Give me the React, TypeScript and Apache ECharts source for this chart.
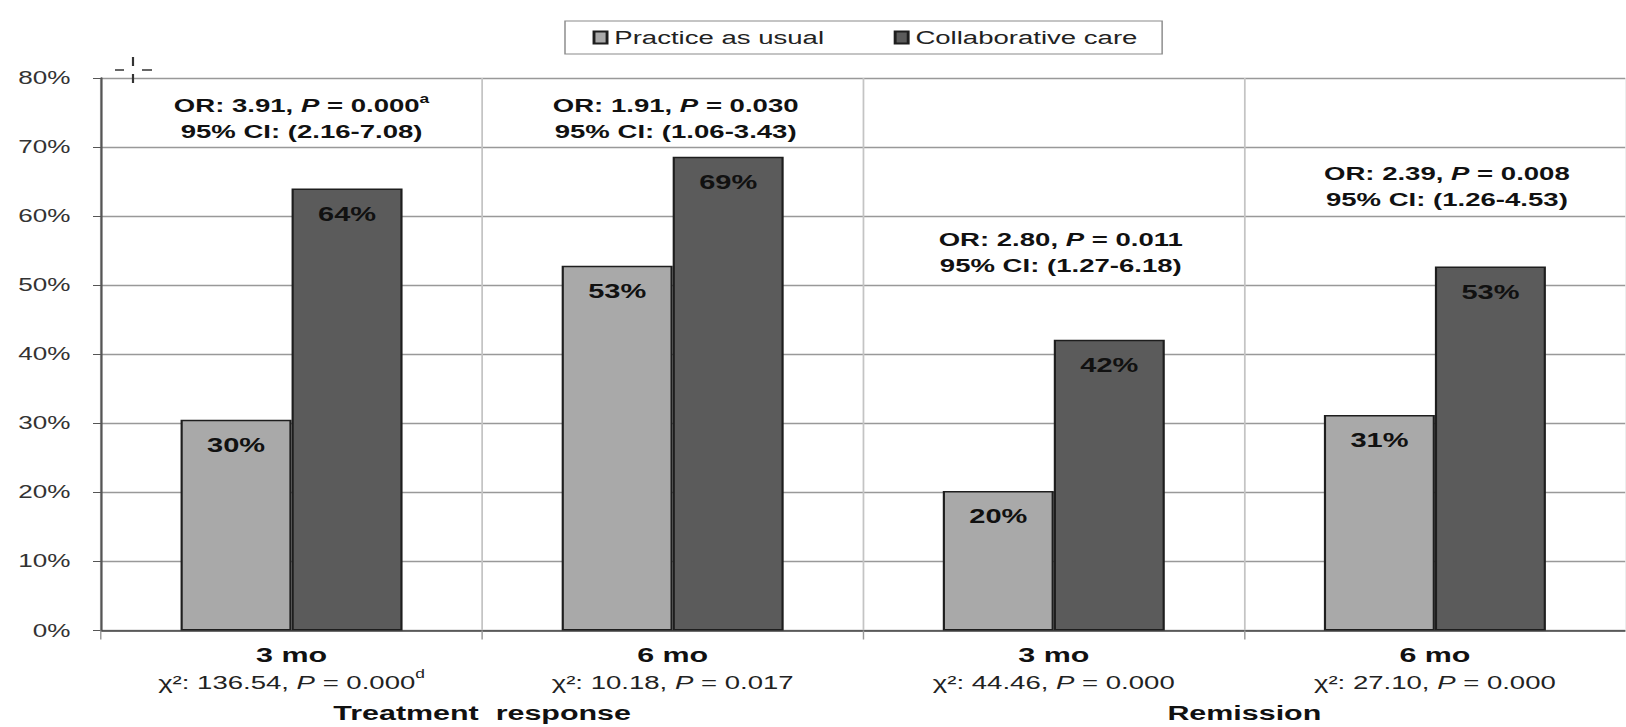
import React, { useEffect, useRef } from 'react';
import * as echarts from 'echarts';

// ---------- data ----------
const categories = ['TR-3', 'TR-6', 'RM-3', 'RM-6'];
const periods = ['3 mo', '6 mo', '3 mo', '6 mo'];
const chiValues = ['136.54', '10.18', '44.46', '27.10'];
const chiP = ['0.000', '0.017', '0.000', '0.000'];
const chiNotes = ['d', '', '', ''];
const groupNames = ['Treatment  response', 'Remission'];
const seriesNames = ['Practice as usual', 'Collaborative care'];
const practiceAsUsual = [30.5, 52.8, 20.2, 31.2];
const collaborativeCare = [64.0, 68.6, 42.1, 52.7];
const pauLabels = ['30%', '53%', '20%', '31%'];
const ccLabels = ['64%', '69%', '42%', '53%'];
const orValues = ['3.91', '1.91', '2.80', '2.39'];
const orP = ['0.000', '0.030', '0.011', '0.008'];
const orNotes = ['a', '', '', ''];
const ciValues = ['2.16-7.08', '1.06-3.43', '1.27-6.18', '1.26-4.53'];
const yMin = 0;
const yMax = 80;
const yStep = 10;

// ---------- layout (not data) ----------
const S = 1.45; // horizontal stretch of the reference picture
const FULL_W = 1626;
const H = 727;
const W = FULL_W / S;
const annDx = [10, 3, 7, 12].map((v) => v / S);
const annTop = [93, 93, 227, 161];
const groupPairs = [[0, 1], [2, 3]];
const FONT = '"Liberation Sans", Arial, Helvetica, sans-serif';

export default function App() {
  const ref = useRef<HTMLDivElement>(null);
  useEffect(() => {
    const el = ref.current;
    if (!el) return;
    const chart = echarts.init(el, null, { renderer: 'svg' });
    const option: any = {
      animation: false,
      backgroundColor: '#ffffff',
      textStyle: { fontFamily: FONT },
      legend: {
        data: seriesNames,
        left: 565 / S,
        top: 21,
        icon: 'rect',
        itemWidth: 9,
        itemHeight: 12,
        itemGap: 48,
        padding: [7, 17, 7, 19],
        borderColor: '#8a8a8a',
        borderWidth: 1,
        backgroundColor: '#ffffff',
        textStyle: { fontSize: 19, color: '#222', fontFamily: FONT },
      },
      grid: { left: 101 / S, right: W - 1639 / S, top: 78, bottom: H - 630.5, containLabel: false },
      xAxis: {
        type: 'category',
        data: categories,
        boundaryGap: true,
        axisLine: { show: true, lineStyle: { color: '#444', width: 1.5 } },
        axisTick: { show: true, length: 9, lineStyle: { color: '#999', width: 1 } },
        splitLine: { show: true, lineStyle: { color: '#c4c4c4', width: 1.2 } },
        axisLabel: {
          interval: 0,
          margin: 11.5,
          color: '#111',
          formatter: (value: string) => {
            const i = categories.indexOf(value);
            const note = chiNotes[i] ? `{sup|${chiNotes[i]}}` : '';
            return `{b|${periods[i]}}\n{n|χ²: ${chiValues[i]}, }{i|P}{n| = ${chiP[i]}}${note}`;
          },
          rich: {
            b: { fontSize: 21, fontWeight: 'bold', lineHeight: 26, color: '#111', fontFamily: FONT },
            n: { fontSize: 19, lineHeight: 29, color: '#222', fontFamily: FONT },
            i: { fontSize: 19, fontStyle: 'italic', lineHeight: 29, color: '#222', fontFamily: FONT },
            sup: { fontSize: 12, lineHeight: 22, verticalAlign: 'top', color: '#222', fontFamily: FONT },
          },
        },
      },
      yAxis: {
        type: 'value',
        min: yMin,
        max: yMax,
        interval: yStep,
        axisLine: { show: true, lineStyle: { color: '#555', width: 1.5 } },
        axisTick: { show: true, length: 5.5, lineStyle: { color: '#555' } },
        splitLine: { show: true, lineStyle: { color: '#999', width: 1.3 } },
        axisLabel: { formatter: '{value}%', fontSize: 18, color: '#333', margin: 21, fontFamily: FONT },
      },
      series: [
        {
          name: seriesNames[0],
          type: 'bar',
          data: practiceAsUsual,
          barWidth: 111 / S,
          barGap: '0%',
          itemStyle: { color: '#a9a9a9', borderColor: '#1e1e1e', borderWidth: 1.5 },
          label: {
            show: true,
            position: 'insideTop',
            distance: 15,
            fontSize: 20,
            fontWeight: 'bold',
            color: '#111',
            fontFamily: FONT,
            formatter: (p: any) => pauLabels[p.dataIndex],
          },
        },
        {
          name: seriesNames[1],
          type: 'bar',
          data: collaborativeCare,
          barWidth: 111 / S,
          barGap: '0%',
          itemStyle: { color: '#5b5b5b', borderColor: '#1e1e1e', borderWidth: 1.5 },
          label: {
            show: true,
            position: 'insideTop',
            distance: 15,
            fontSize: 20,
            fontWeight: 'bold',
            color: '#111',
            fontFamily: FONT,
            formatter: (p: any) => ccLabels[p.dataIndex],
          },
        },
      ],
    };
    chart.setOption(option);

    const px = (i: number) => chart.convertToPixel({ xAxisIndex: 0 }, categories[i]) as number;
    const annRich = {
      b: { fontSize: 19, fontWeight: 'bold', lineHeight: 26, fill: '#111', fontFamily: FONT },
      bi: { fontSize: 19, fontWeight: 'bold', fontStyle: 'italic', lineHeight: 26, fill: '#111', fontFamily: FONT },
      sup: { fontSize: 12, fontWeight: 'bold', lineHeight: 16, verticalAlign: 'top', fill: '#111', fontFamily: FONT },
    };
    const graphics: any[] = categories.map((_, i) => ({
      type: 'text',
      x: px(i) + annDx[i],
      y: annTop[i],
      style: {
        text: `{b|OR: ${orValues[i]}, }{bi|P}{b| = ${orP[i]}}${orNotes[i] ? `{sup|${orNotes[i]}}` : ''}\n{b|95% CI: (${ciValues[i]})}`,
        rich: annRich,
        align: 'center',
        verticalAlign: 'top',
        fill: '#111',
        fontFamily: FONT,
        fontSize: 19,
      },
    }));
    groupPairs.forEach((pair, g) => {
      graphics.push({
        type: 'text',
        x: (px(pair[0]) + px(pair[1])) / 2,
        y: 713,
        style: {
          text: groupNames[g],
          align: 'center',
          verticalAlign: 'middle',
          fontSize: 21,
          fontWeight: 'bold',
          fill: '#111',
          fontFamily: FONT,
        },
      });
    });
    // cursor crosshair artifact
    const cx = 133 / S;
    const cs = { stroke: '#333', lineWidth: 1.5 };
    graphics.push(
      { type: 'line', shape: { x1: 115 / S, y1: 70, x2: 124 / S, y2: 70 }, style: cs },
      { type: 'line', shape: { x1: 142 / S, y1: 70, x2: 152 / S, y2: 70 }, style: cs },
      { type: 'line', shape: { x1: cx, y1: 57, x2: cx, y2: 66 }, style: cs },
      { type: 'line', shape: { x1: cx, y1: 74, x2: cx, y2: 83 }, style: cs }
    );
    chart.setOption({ graphic: graphics });

    return () => chart.dispose();
  }, []);

  return (
    <div
      style={{
        position: 'fixed',
        left: 0,
        top: 0,
        width: FULL_W,
        height: H,
        overflow: 'hidden',
        background: '#fff',
      }}
    >
      <div
        ref={ref}
        style={{ width: W, height: H, transform: `scaleX(${S})`, transformOrigin: '0 0' }}
      />
    </div>
  );
}
